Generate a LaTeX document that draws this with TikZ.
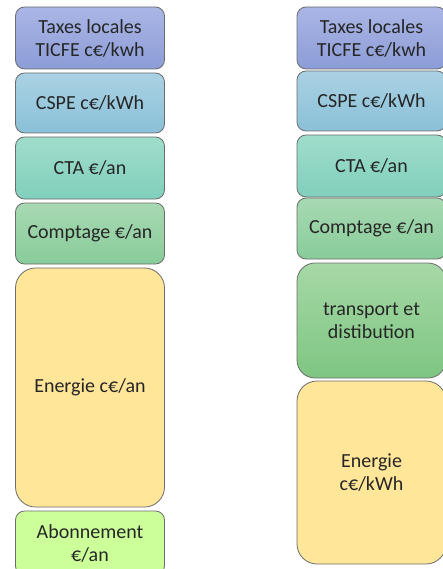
\documentclass[tikz,border=0pt]{standalone}
\usepackage{fontspec}
\setmainfont{Carlito}
\definecolor{taxesHaut}{RGB}{170,182,230}
\definecolor{taxesBas}{RGB}{140,156,214}
\definecolor{cspeHaut}{RGB}{170,210,227}
\definecolor{cspeBas}{RGB}{138,192,216}
\definecolor{ctaHaut}{RGB}{160,221,203}
\definecolor{ctaBas}{RGB}{128,207,188}
\definecolor{comptHaut}{RGB}{168,217,178}
\definecolor{comptBas}{RGB}{136,204,154}
\definecolor{transpHaut}{RGB}{166,216,166}
\definecolor{transpBas}{RGB}{126,198,130}
\definecolor{energieFond}{RGB}{255,230,153}
\definecolor{aboFond}{RGB}{204,255,153}
\begin{document}
\begin{tikzpicture}[x=1pt,y=-1pt,
  bloc/.style={draw=gray!85!black,line width=0.8pt,rounded corners=9pt,minimum width=149pt,
    align=center,text=black!85,font=\fontsize{20}{23}\selectfont,inner sep=2pt},
  grand/.style={bloc,rounded corners=20pt},
  taxes/.style={top color=taxesHaut,bottom color=taxesBas},
  cspe/.style={top color=cspeHaut,bottom color=cspeBas},
  cta/.style={top color=ctaHaut,bottom color=ctaBas},
  compt/.style={top color=comptHaut,bottom color=comptBas},
  transp/.style={top color=transpHaut,bottom color=transpBas},
  energie/.style={fill=energieFond},
  abo/.style={fill=aboFond}]
\useasboundingbox (0,0) rectangle (443,569);
\clip (0,0) rectangle (443,569);
\node[bloc,taxes,minimum height=62pt] (taxesG) at (90,38) {Taxes locales\\TICFE c€/kwh};
\node[bloc,cspe,minimum height=60pt] (cspeG) at (90,103) {CSPE c€/kWh};
\node[bloc,cta,minimum height=62pt] (ctaG) at (90,168) {CTA €/an};
\node[bloc,compt,minimum height=61pt] (comptG) at (90,233.5) {Comptage €/an};
\node[grand,energie,minimum height=239pt] (energieG) at (90,387.5) {Energie c€/an};
\node[bloc,abo,minimum height=64pt] (aboG) at (90,543) {Abonnement\\€/an};
\node[bloc,taxes,minimum height=62pt] (taxesD) at (371.5,38) {Taxes locales\\TICFE c€/kwh};
\node[bloc,cspe,minimum height=60pt] (cspeD) at (371.5,101) {CSPE c€/kWh};
\node[bloc,cta,minimum height=62pt] (ctaD) at (371.5,166) {CTA €/an};
\node[bloc,compt,minimum height=61pt] (comptD) at (371.5,228.5) {Comptage €/an};
\node[grand,rounded corners=18pt,transp,minimum height=115pt] (transpD) at (371.5,320.5) {transport et\\distibution};
\node[grand,energie,minimum height=183pt] (energieD) at (371.5,472.5) {Energie\\c€/kWh};
\end{tikzpicture}
\end{document}
